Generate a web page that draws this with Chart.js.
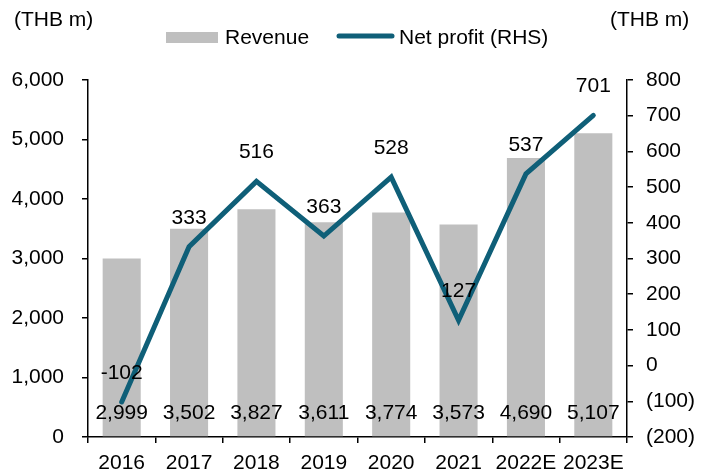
<!DOCTYPE html>
<html>
<head>
<meta charset="utf-8">
<script src="https://cdn.jsdelivr.net/npm/chart.js@4.4.0/dist/chart.umd.min.js"></script>
<style>
  html, body { margin: 0; padding: 0; background: #fff; }
  #wrap { width: 708px; height: 474px; }
</style>
</head>
<body>
<div id="wrap"><canvas id="myChart" width="708" height="474"></canvas></div>
<script>
const years = ["2016", "2017", "2018", "2019", "2020", "2021", "2022E", "2023E"];
const revenue = [2999, 3502, 3827, 3611, 3774, 3573, 4690, 5107];
const netProfit = [-102, 333, 516, 363, 528, 127, 537, 701];

const colors = {
  revenue: "#BFBFBF",
  profit: "#0F5F78",
  text: "#000000",
};
const FONT = "Liberation Sans, Arial, sans-serif";
const FS = 21;

const fmt = (v) => v.toLocaleString("en-US");

const extras = {
  id: "extras",
  afterDatasetsDraw(chart) {
    const ctx = chart.ctx;
    const x = chart.scales.x;
    const yL = chart.scales.y;
    const yR = chart.scales.y1;
    ctx.save();
    ctx.fillStyle = colors.text;
    ctx.font = FS + "px " + FONT;
    ctx.textAlign = "center";
    ctx.textBaseline = "middle";

    // revenue labels sit near the bottom of each bar
    revenue.forEach((v, i) => {
      ctx.fillText(fmt(v), x.getPixelForValue(i), yL.getPixelForValue(0) - 24);
    });
    // net profit labels above each point
    netProfit.forEach((v, i) => {
      ctx.fillText(fmt(v), x.getPixelForValue(i), yR.getPixelForValue(v) - 29);
    });

    // unit labels
    ctx.textAlign = "left";
    ctx.fillText("(THB m)", 14, 20);
    ctx.fillText("(THB m)", 610, 20);

    // legend
    ctx.fillStyle = colors.revenue;
    ctx.fillRect(166, 32, 52, 11);
    ctx.fillStyle = colors.text;
    ctx.fillText("Revenue", 225, 38);
    ctx.strokeStyle = colors.profit;
    ctx.lineWidth = 5;
    ctx.lineCap = "round";
    ctx.beginPath();
    ctx.moveTo(339, 36);
    ctx.lineTo(392, 36);
    ctx.stroke();
    ctx.fillText("Net profit (RHS)", 399, 38);
    ctx.restore();
  },
};

const ctx = document.getElementById("myChart").getContext("2d");
new Chart(ctx, {
  data: {
    labels: years,
    datasets: [
      {
        type: "line",
        label: "Net profit (RHS)",
        data: netProfit,
        yAxisID: "y1",
        borderColor: colors.profit,
        borderWidth: 5,
        borderCapStyle: "round",
        borderJoinStyle: "miter",
        pointRadius: 0,
        tension: 0,
        order: 0,
      },
      {
        type: "bar",
        label: "Revenue",
        data: revenue,
        yAxisID: "y",
        backgroundColor: colors.revenue,
        barPercentage: 0.565,
        categoryPercentage: 1,
        order: 1,
      },
    ],
  },
  options: {
    responsive: false,
    animation: false,
    layout: { padding: { top: 80, left: 0, right: 0, bottom: 0 } },
    plugins: {
      legend: { display: false },
      tooltip: { enabled: false },
    },
    scales: {
      x: {
        offset: true,
        grid: {
          display: true,
          offset: true,
          drawOnChartArea: false,
          color: "#000",
          tickLength: 6,
          lineWidth: 1.5,
        },
        border: { color: "#000", width: 1.5 },
        ticks: {
          color: colors.text,
          font: { family: FONT, size: FS },
          padding: 8,
          maxRotation: 0,
          autoSkip: false,
        },
        afterFit: (s) => { s.height = 37; },
      },
      y: {
        position: "left",
        min: 0,
        max: 6000,
        grid: {
          drawOnChartArea: false,
          color: "#000",
          tickLength: 6,
          lineWidth: 1.5,
        },
        border: { color: "#000", width: 1.5 },
        ticks: {
          stepSize: 1000,
          color: colors.text,
          font: { family: FONT, size: FS },
          padding: 18,
          callback: (v) => fmt(v),
        },
        afterFit: (s) => { s.width = 88; },
      },
      y1: {
        position: "right",
        min: -200,
        max: 800,
        grid: {
          drawOnChartArea: false,
          color: "#000",
          tickLength: 6,
          lineWidth: 1.5,
        },
        border: { color: "#000", width: 1.5 },
        ticks: {
          stepSize: 100,
          color: colors.text,
          font: { family: FONT, size: FS },
          padding: 13,
          callback: (v) => (v < 0 ? "(" + -v + ")" : String(v)),
        },
        afterFit: (s) => { s.width = 81; },
      },
    },
  },
  plugins: [extras],
});
</script>
</body>
</html>
